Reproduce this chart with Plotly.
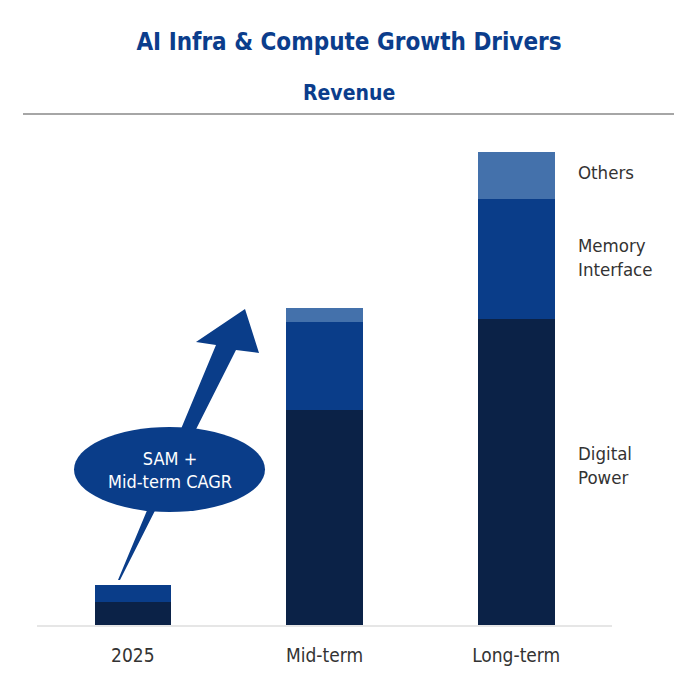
import plotly.graph_objects as go

categories = ["2025", "Mid-term", "Long-term"]
digital_power = [23, 215, 306]
memory_interface = [17, 88, 120]
others = [0, 14, 47]
series_names = ["Digital Power", "Memory Interface", "Others"]
series_labels = ["Digital<br>Power", "Memory<br>Interface", "Others"]
colors = ["#0B2247", "#0A3D89", "#4471AB"]

FONT = "DejaVu Sans Condensed, Liberation Sans Narrow, sans-serif"
W, H = 700, 675
ML, MR, MT, MB = 37, 88, 125, 50
PW, PH = W - ML - MR, H - MT - MB
label_yshifts = [7, 2, 3]


def px(x):
    return (x - ML) / PW


def py(y):
    return (H - MB - y) / PH


fig = go.Figure()
for name, vals, col in zip(series_names, [digital_power, memory_interface, others], colors):
    fig.add_trace(go.Bar(x=categories, y=vals, name=name, marker=dict(color=col, line=dict(width=0))))

# right-side segment labels at last bar
last = len(categories) - 1
base = 0
for lab, vals, ys in zip(series_labels, [digital_power, memory_interface, others], label_yshifts):
    mid = base + vals[last] / 2
    base += vals[last]
    fig.add_annotation(x=categories[last], y=mid, xref="x", yref="y", text=lab,
                       showarrow=False, xanchor="left", yanchor="middle", xshift=60, yshift=ys,
                       align="left", font=dict(family=FONT, size=18.5, color="#333333"))

# arrow (decorative)
pts = [(118, 580), (120, 580), (236, 350), (259, 353), (245, 309), (196, 342), (216, 345)]
path = "M " + " L ".join(f"{px(a):.5f},{py(b):.5f}" for a, b in pts) + " Z"
fig.add_shape(type="path", path=path, xref="paper", yref="paper",
              fillcolor="#0A3D89", line=dict(width=0), layer="above")
fig.add_shape(type="circle", xref="paper", yref="paper",
              x0=px(74), x1=px(265), y0=py(512), y1=py(427),
              fillcolor="#0A3D89", line=dict(width=0), layer="above")
fig.add_annotation(x=px(169.5), y=py(470), xref="paper", yref="paper",
                   xanchor="center", yanchor="middle",
                   text="SAM +<br>Mid-term CAGR", showarrow=False,
                   font=dict(family=FONT, size=18, color="white"), align="center")

# separator line under subtitle
fig.add_shape(type="line", xref="paper", yref="paper", x0=px(23), x1=px(674),
              y0=py(114), y1=py(114), line=dict(color="#A6A6A6", width=2))

fig.add_annotation(x=px(349), y=py(93), xref="paper", yref="paper", text="<b>Revenue</b>",
                   xanchor="center", yanchor="middle",
                   showarrow=False, font=dict(family=FONT, size=21, color="#0B3D8C"))

fig.update_layout(
    width=W, height=H,
    margin=dict(l=ML, r=MR, t=MT, b=MB),
    barmode="stack", bargap=0.6,
    showlegend=False,
    plot_bgcolor="white", paper_bgcolor="white",
    title=dict(text="<b>AI Infra & Compute Growth Drivers</b>", x=349 / W,
               xanchor="center", y=1 - 42 / H, yanchor="middle",
               font=dict(family=FONT, size=24, color="#0B3D8C")),
    xaxis=dict(showline=True, linecolor="#E6E6E6", linewidth=2, showgrid=False,
               ticks="", tickfont=dict(family=FONT, size=19, color="#333333"),
               ticklabelstandoff=12, range=[-0.5, 2.5], automargin=False),
    yaxis=dict(range=[0, PH], visible=False, showgrid=False, zeroline=False,
               automargin=False),
)

fig.write_html("out.html")
